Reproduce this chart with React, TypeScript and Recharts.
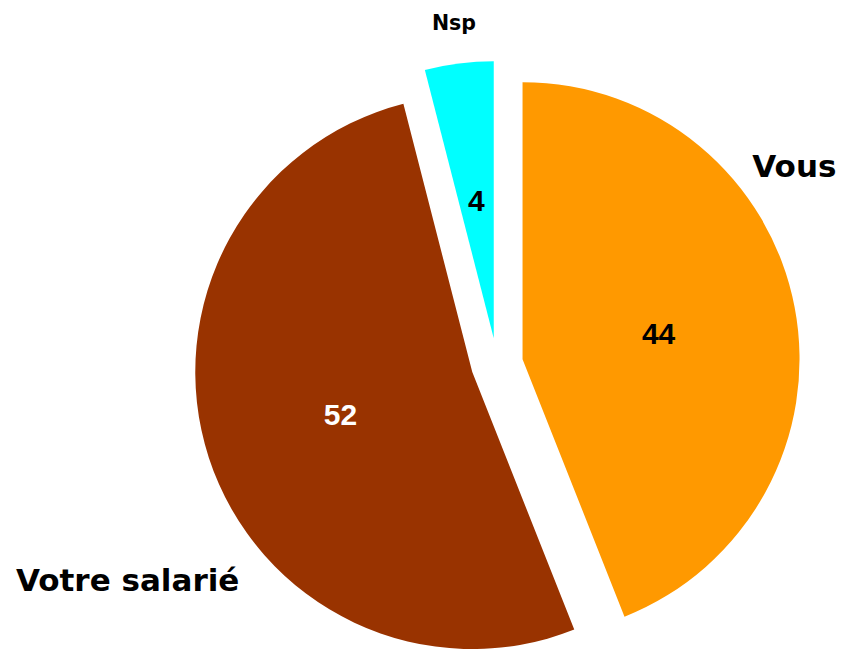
import React from 'react';
import { PieChart, Pie, Cell, Sector } from 'recharts';

const categories = ['Vous', 'Votre salarié', 'Nsp'];
const values = [44, 52, 4];
const sliceColors = ['#FF9900', '#993300', '#00FFFF'];
const valueColors = ['#000000', '#FFFFFF', '#000000'];

// where Excel dropped the category names: angle shift (deg) and radius factor
const namePlacement = [
  { shift: 24.6, radius: 1.204, size: 31 },
  { shift: 13.1, radius: 1.453, size: 31 },
  { shift: 0, radius: 1.147, size: 20.5 },
];

const data = categories.map((name, i) => ({ name, value: values[i] }));

const RADIAN = Math.PI / 180;
const EXPLODE = 26;

const offset = (midAngle: number, dist: number) => ({
  dx: dist * Math.cos(-midAngle * RADIAN),
  dy: dist * Math.sin(-midAngle * RADIAN),
});

const ExplodedSector = (props: any) => {
  const { cx, cy, midAngle } = props;
  const { dx, dy } = offset(midAngle, EXPLODE);
  return <Sector {...props} cx={cx + dx} cy={cy + dy} stroke="none" />;
};

const renderLabel = (props: any) => {
  const { cx, cy, midAngle, outerRadius, index, value, name } = props;
  const { dx, dy } = offset(midAngle, EXPLODE);
  const ox = cx + dx;
  const oy = cy + dy;
  const inner = offset(midAngle, outerRadius * 0.5);
  const place = namePlacement[index];
  const outer = offset(midAngle + place.shift, outerRadius * place.radius);
  return (
    <g>
      <text
        x={ox + inner.dx}
        y={oy + inner.dy}
        textAnchor="middle"
        dominantBaseline="central"
        fill={valueColors[index]}
        style={{ fontFamily: '"Liberation Sans", Arial, sans-serif', fontWeight: 'bold', fontSize: 30 }}
      >
        {value}
      </text>
      <text
        x={ox + outer.dx}
        y={oy + outer.dy}
        textAnchor="middle"
        dominantBaseline="central"
        fill="#000000"
        style={{ fontFamily: '"DejaVu Sans", Verdana, sans-serif', fontWeight: 'bold', fontSize: place.size }}
      >
        {name}
      </text>
    </g>
  );
};

export default function App() {
  return (
    <div style={{ position: 'absolute', left: 0, top: 0, width: 841, height: 649, background: '#FFFFFF' }}>
      <PieChart width={841} height={649} margin={{ top: 0, right: 0, bottom: 0, left: 0 }}>
        <Pie
          data={data}
          dataKey="value"
          nameKey="name"
          cx={497}
          cy={364}
          outerRadius={277}
          startAngle={90}
          endAngle={-270}
          stroke="none"
          shape={ExplodedSector}
          activeShape={ExplodedSector}
          inactiveShape={ExplodedSector}
          label={renderLabel}
          labelLine={false}
          isAnimationActive={false}
        >
          {data.map((entry, i) => (
            <Cell key={entry.name} fill={sliceColors[i]} />
          ))}
        </Pie>
      </PieChart>
    </div>
  );
}
